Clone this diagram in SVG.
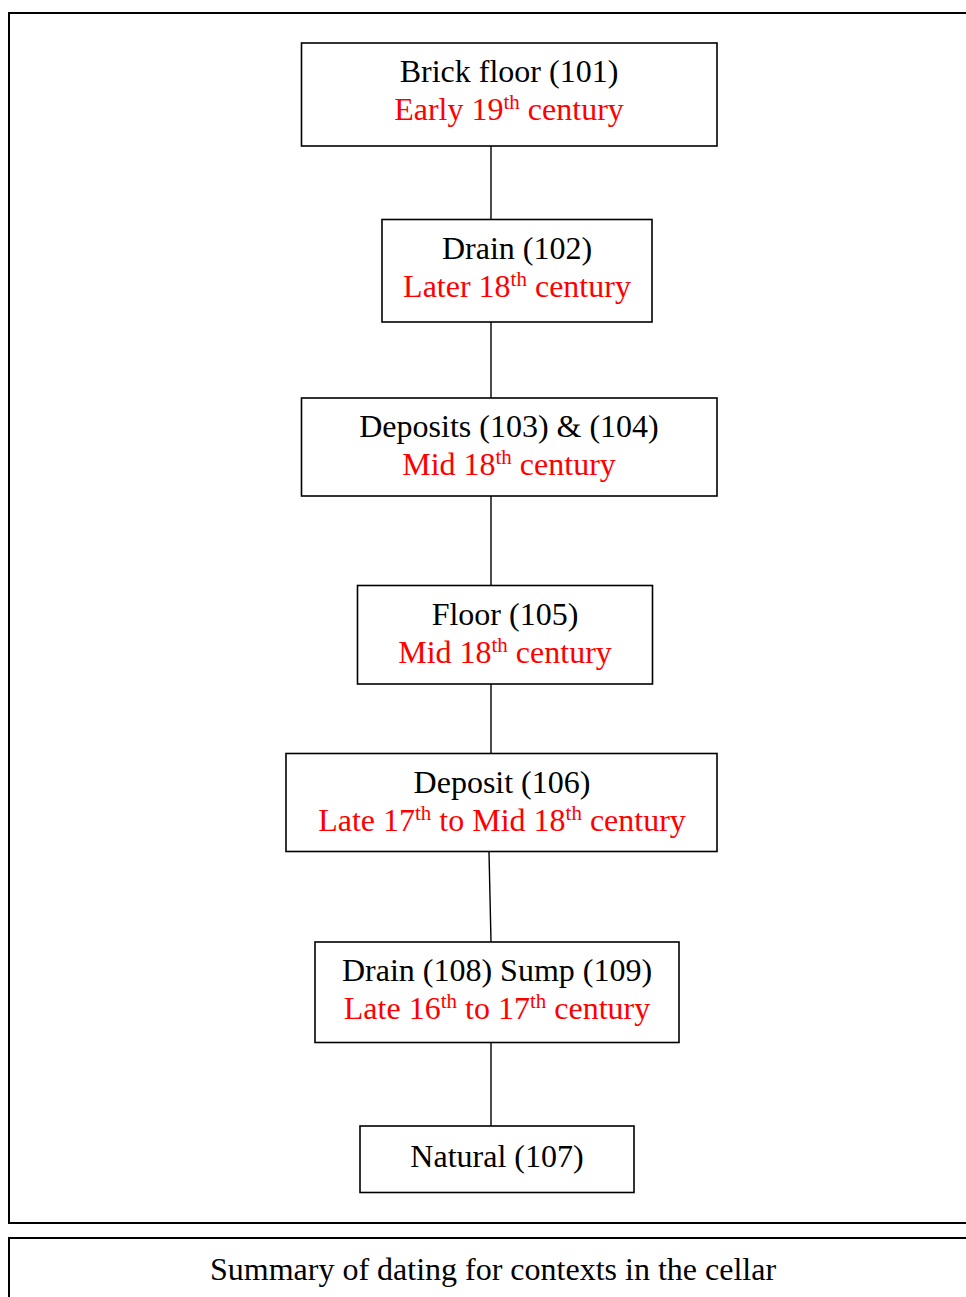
<svg xmlns="http://www.w3.org/2000/svg" width="966" height="1297" viewBox="0 0 966 1297">
<style>
  .frame { fill: none; stroke: #000; stroke-width: 2; }
  .box { fill: #fff; stroke: #000; stroke-width: 1.6; }
  .conn { stroke: #000; stroke-width: 1.4; fill: none; }
  .t { font-family: "Liberation Serif", "Times New Roman", serif; font-size: 32px; text-anchor: middle; fill: #000; }
  .r { fill: #ff0000; }
  .sup { font-size: 21px; }
</style>
<rect class="frame" x="9" y="13" width="980" height="1210"/>
<rect class="frame" x="9" y="1238" width="980" height="80"/>
<g id="connectors">
  <line class="conn" x1="491" y1="146" x2="491" y2="219"/>
  <line class="conn" x1="491" y1="322" x2="491" y2="398"/>
  <line class="conn" x1="491" y1="496" x2="491" y2="585"/>
  <line class="conn" x1="491" y1="684" x2="491" y2="753"/>
  <line class="conn" x1="489" y1="852" x2="491" y2="942"/>
  <line class="conn" x1="491" y1="1043" x2="491" y2="1126"/>
</g>
<g id="n101">
  <rect class="box" x="301.5" y="43" width="415.5" height="103"/>
  <text class="t" x="509" y="82">Brick floor (101)</text>
  <text class="t r" x="509" y="120">Early 19<tspan class="sup" dy="-11">th</tspan><tspan dy="11"> century</tspan></text>
</g>
<g id="n102">
  <rect class="box" x="382" y="219.5" width="270" height="102.5"/>
  <text class="t" x="517" y="259">Drain (102)</text>
  <text class="t r" x="517" y="297">Later 18<tspan class="sup" dy="-11">th</tspan><tspan dy="11"> century</tspan></text>
</g>
<g id="n103">
  <rect class="box" x="301.5" y="398" width="415.5" height="98"/>
  <text class="t" x="509" y="437">Deposits (103) &amp; (104)</text>
  <text class="t r" x="509" y="475">Mid 18<tspan class="sup" dy="-11">th</tspan><tspan dy="11"> century</tspan></text>
</g>
<g id="n105">
  <rect class="box" x="357.5" y="585.5" width="295" height="98.5"/>
  <text class="t" x="505" y="625">Floor (105)</text>
  <text class="t r" x="505" y="663">Mid 18<tspan class="sup" dy="-11">th</tspan><tspan dy="11"> century</tspan></text>
</g>
<g id="n106">
  <rect class="box" x="286" y="753.5" width="431" height="98"/>
  <text class="t" x="502" y="793">Deposit (106)</text>
  <text class="t r" x="502" y="831">Late 17<tspan class="sup" dy="-11">th</tspan><tspan dy="11"> to Mid 18</tspan><tspan class="sup" dy="-11">th</tspan><tspan dy="11"> century</tspan></text>
</g>
<g id="n108">
  <rect class="box" x="315" y="942" width="364" height="100.5"/>
  <text class="t" x="497" y="981">Drain (108) Sump (109)</text>
  <text class="t r" x="497" y="1019">Late 16<tspan class="sup" dy="-11">th</tspan><tspan dy="11"> to 17</tspan><tspan class="sup" dy="-11">th</tspan><tspan dy="11"> century</tspan></text>
</g>
<g id="n107">
  <rect class="box" x="360" y="1126" width="274" height="66.5"/>
  <text class="t" x="497" y="1167">Natural (107)</text>
</g>
<text class="t" x="493" y="1280">Summary of dating for contexts in the cellar</text>
</svg>
